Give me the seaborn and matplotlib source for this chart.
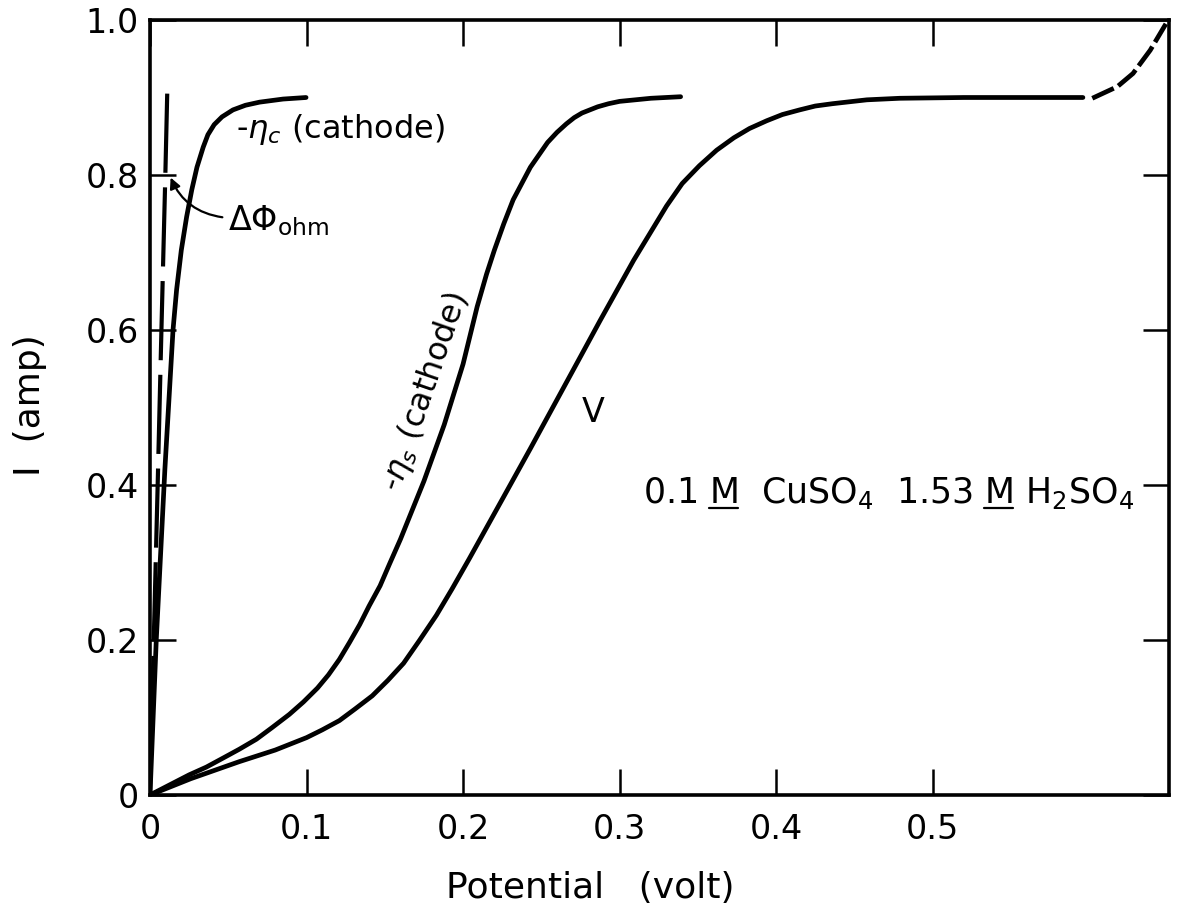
import matplotlib
matplotlib.use("Agg")
import matplotlib.pyplot as plt
from matplotlib.lines import Line2D
from matplotlib.font_manager import FontProperties
from matplotlib.transforms import IdentityTransform
import seaborn as sns

# values: potential (volt) vs current I (amp)
ohm_x = [0.0110, 0.0098, 0.0073, 0.0049, 0.0024, 0.0]
ohm_i = [0.905, 0.80, 0.60, 0.40, 0.20, 0.0]

etac_x = [0.0, 0.002, 0.004, 0.0065, 0.0095, 0.0147, 0.017, 0.020, 0.0234,
          0.0267, 0.030, 0.034, 0.037, 0.041, 0.046, 0.053, 0.061, 0.070,
          0.085, 0.0997]
etac_i = [0.0, 0.10, 0.20, 0.30, 0.42, 0.60, 0.652, 0.703, 0.746,
          0.781, 0.810, 0.836, 0.852, 0.865, 0.875, 0.884, 0.890, 0.894,
          0.898, 0.900]

etas_x = [0.0, 0.025, 0.036, 0.047, 0.057, 0.068, 0.078, 0.089, 0.098, 0.107,
          0.114, 0.121, 0.1275, 0.134, 0.140, 0.147, 0.153, 0.160, 0.175,
          0.188, 0.200, 0.209, 0.215, 0.220, 0.226, 0.232, 0.243, 0.254,
          0.260, 0.266, 0.271, 0.276, 0.286, 0.293, 0.300, 0.310, 0.320,
          0.339]
etas_i = [0.0, 0.026, 0.036, 0.048, 0.059, 0.072, 0.087, 0.104, 0.120, 0.138,
          0.155, 0.175, 0.197, 0.220, 0.244, 0.270, 0.298, 0.330, 0.405,
          0.478, 0.556, 0.630, 0.672, 0.703, 0.737, 0.768, 0.810, 0.842,
          0.855, 0.866, 0.874, 0.880, 0.888, 0.892, 0.895, 0.897, 0.899,
          0.901]

v_x = [0.0, 0.026, 0.057, 0.080, 0.100, 0.110, 0.121, 0.131, 0.142, 0.152,
       0.162, 0.172, 0.183, 0.193, 0.204, 0.226, 0.243, 0.260, 0.277, 0.2875,
       0.309, 0.330, 0.340, 0.351, 0.362, 0.373, 0.383, 0.394, 0.404, 0.415,
       0.425, 0.436, 0.458, 0.479, 0.520, 0.596]
v_i = [0.0, 0.021, 0.043, 0.058, 0.074, 0.084, 0.096, 0.111, 0.128, 0.148,
       0.170, 0.199, 0.232, 0.266, 0.305, 0.385, 0.447, 0.510, 0.573, 0.612,
       0.690, 0.760, 0.789, 0.812, 0.832, 0.848, 0.860, 0.870, 0.878, 0.884,
       0.889, 0.892, 0.897, 0.899, 0.900, 0.900]

# dashed continuation of V
vtail_x = [0.602, 0.618, 0.628, 0.639, 0.649]
vtail_i = [0.899, 0.914, 0.931, 0.961, 0.995]

xticks = [0, 0.1, 0.2, 0.3, 0.4, 0.5]
xticklabels = ["0", "0.1", "0.2", "0.3", "0.4", "0.5"]
yticks = [0, 0.2, 0.4, 0.6, 0.8, 1.0]
yticklabels = ["0", "0.2", "0.4", "0.6", "0.8", "1.0"]

# electrolyte label, the "M" pieces get underlined
comp_parts = ["0.1 ", "M", "  CuSO$_4$  1.53 ", "M", " H$_2$SO$_4$"]

sns.set_theme(style="ticks")
plt.rcParams["font.family"] = ["DejaVu Sans"]
plt.rcParams["mathtext.fontset"] = "dejavusans"

fig = plt.figure(figsize=(11.79, 9.15), dpi=100)
fig.patch.set_facecolor("white")
ax = fig.add_axes([150 / 1179, 120 / 915, 1019 / 1179, 775 / 915])
ax.set_facecolor("white")

lw = 3.4
sns.lineplot(x=ohm_x, y=ohm_i, ax=ax, color="black", linewidth=3.0,
             linestyle=(0, (19, 3.5)), estimator=None, sort=False)
sns.lineplot(x=etac_x, y=etac_i, ax=ax, color="black", linewidth=lw,
             estimator=None, sort=False)
sns.lineplot(x=etas_x, y=etas_i, ax=ax, color="black", linewidth=lw,
             estimator=None, sort=False)
sns.lineplot(x=v_x, y=v_i, ax=ax, color="black", linewidth=lw,
             estimator=None, sort=False)
sns.lineplot(x=vtail_x, y=vtail_i, ax=ax, color="black", linewidth=lw,
             linestyle=(0, (5, 1.1)), estimator=None, sort=False)

ax.set_xlim(0, 0.651)
ax.set_ylim(0, 1.0)
ax.set_xticks(xticks)
ax.set_xticklabels(xticklabels)
ax.set_yticks(yticks)
ax.set_yticklabels(yticklabels)

for s in ax.spines.values():
    s.set_visible(True)
    s.set_linewidth(2.6)
    s.set_color("black")

ax.tick_params(axis="both", which="both", direction="in", length=19, width=1.8,
               top=True, right=True, labelsize=24, colors="black")
ax.tick_params(axis="x", pad=13)
ax.tick_params(axis="y", pad=8)

ax.set_xlabel("Potential   (volt)", fontsize=26, color="black")
ax.set_ylabel("I  (amp)", fontsize=26, color="black")
ax.xaxis.set_label_coords(0.432, -0.098)
ax.yaxis.set_label_coords(-0.101, 0.503)

# curve labels
ax.text(0.055, 0.848, r"-$\eta_c$ (cathode)", fontsize=23, ha="left",
        va="baseline", color="black")
ax.text(0.050, 0.729, r"$\Delta\Phi_{\rm ohm}$", fontsize=24, ha="left",
        va="baseline", color="black")
ax.annotate("", xy=(0.0125, 0.80), xytext=(0.048, 0.745),
            arrowprops=dict(arrowstyle="-|>", color="black", lw=1.6,
                            mutation_scale=16,
                            connectionstyle="arc3,rad=-0.3"))
ax.text(0.176, 0.52, r"-$\eta_s$ (cathode)", fontsize=23, rotation=71,
        ha="center", va="center", color="black")
ax.text(0.283, 0.493, "V", fontsize=24, ha="center", va="center",
        color="black")

comp_fs = 25
comp_pos = (0.315, 0.377)
ax.text(comp_pos[0], comp_pos[1], "".join(comp_parts), fontsize=comp_fs,
        ha="left", va="baseline", color="black")

# underline the two molarity "M"s, measured from the text layout
fig.canvas.draw()
renderer = fig.canvas.get_renderer()
fp = FontProperties(family="DejaVu Sans", size=comp_fs)


def text_width(s):
    w, h, d = renderer.get_text_width_height_descent(s, fp, ismath=True)
    return w


x0, y0 = ax.transData.transform(comp_pos)
m_w = text_width("M")
for k in (2, 4):
    right = x0 + text_width("".join(comp_parts[:k]))
    fig.add_artist(Line2D([right - m_w, right], [y0 - 5, y0 - 5],
                          transform=IdentityTransform(), color="black",
                          linewidth=1.6))

fig.savefig("out.png", dpi=100, facecolor="white")
